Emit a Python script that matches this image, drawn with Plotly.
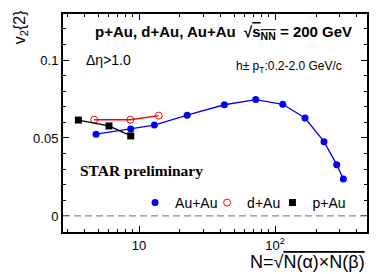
import plotly.graph_objects as go

# Data
au_n = [4.83, 8.69, 12.96, 22.6, 42.4, 72.1, 113.9, 166, 229, 284, 318]
au_v = [0.0524, 0.0558, 0.0583, 0.0646, 0.0713, 0.0746, 0.0716, 0.0628, 0.0476, 0.0329, 0.0237]
d_n = [4.69, 8.63, 13.97]
d_v = [0.0617, 0.0617, 0.0643]
p_n = [3.58, 6.01, 8.69]
p_v = [0.0615, 0.0577, 0.0513]

x_tickvals = [10, 100]
x_ticktext = ["10", "10<sup>2</sup>"]
y_tickvals = [0, 0.05, 0.1]
y_ticktext = ["0", "0.05", "0.1"]
x_minor = [3, 4, 5, 6, 7, 8, 9, 20, 30, 40, 50, 60, 70, 80, 90, 200, 300, 400]

BLUE = "rgb(0,0,255)"
RED = "rgb(255,0,0)"
BLACK = "black"

fig = go.Figure()
fig.add_trace(go.Scatter(x=au_n, y=au_v, mode="lines+markers", showlegend=False,
                         line=dict(color=BLUE, width=1.3),
                         marker=dict(color=BLUE, size=7, symbol="circle")))
fig.add_trace(go.Scatter(x=d_n, y=d_v, mode="lines+markers", showlegend=False,
                         line=dict(color=RED, width=1.3),
                         marker=dict(color=RED, size=7, symbol="circle-open",
                                     line=dict(color=RED, width=1))))
fig.add_trace(go.Scatter(x=p_n, y=p_v, mode="lines+markers", showlegend=False,
                         line=dict(color=BLACK, width=1.3),
                         marker=dict(color=BLACK, size=7, symbol="square")))
# legend entries (markers only), one legend box per entry
fig.add_trace(go.Scatter(x=[None], y=[None], mode="markers", name="Au+Au", legend="legend",
                         marker=dict(color=BLUE, size=7, symbol="circle")))
fig.add_trace(go.Scatter(x=[None], y=[None], mode="markers", name="d+Au", legend="legend2",
                         marker=dict(color=RED, size=7, symbol="circle-open", line=dict(color=RED, width=1))))
fig.add_trace(go.Scatter(x=[None], y=[None], mode="markers", name="p+Au", legend="legend3",
                         marker=dict(color=BLACK, size=7, symbol="square")))

fig.add_shape(type="line", xref="paper", yref="y", x0=0, x1=1, y0=0, y1=0,
              line=dict(color="#888888", width=1.2, dash="7px,4px"))

font = "Liberation Sans, Arial, sans-serif"
leg = dict(orientation="h", y=0.133, xanchor="left", yanchor="middle",
           bgcolor="rgba(0,0,0,0)", font=dict(size=14), itemwidth=30)
fig.update_layout(
    width=382, height=274,
    margin=dict(l=63, r=15, t=14, b=42),
    paper_bgcolor="white", plot_bgcolor="white",
    font=dict(family=font, size=13, color="black"),
    xaxis=dict(type="log", range=[0.441, 2.676],
               tickvals=x_tickvals, ticktext=x_ticktext,
               ticks="inside", ticklen=6, tickwidth=1, tickcolor="black",
               minor=dict(tickvals=x_minor, ticks="inside", ticklen=3, tickcolor="black"),
               showline=True, linewidth=2, linecolor="black", mirror="allticks",
               showgrid=False, zeroline=False, tickfont=dict(size=13)),
    yaxis=dict(range=[-0.0103, 0.1295],
               tickvals=y_tickvals, ticktext=y_ticktext,
               ticks="inside", ticklen=6, tickwidth=1, tickcolor="black",
               minor=dict(dtick=0.01, ticks="inside", ticklen=3, tickcolor="black"),
               showline=True, linewidth=2, linecolor="black", mirror="allticks",
               showgrid=False, zeroline=False, tickfont=dict(size=13)),
    legend=dict(leg, x=0.237),
    legend2=dict(leg, x=0.474),
    legend3=dict(leg, x=0.689),
    annotations=[
        dict(xref="paper", yref="paper", x=0.956, y=0.917, xanchor="right", yanchor="middle",
             showarrow=False, font=dict(size=15),
             text="<b>p+Au, d+Au, Au+Au  √<span style='text-decoration:overline'>s<sub>NN</sub></span> = 200 GeV</b>"),
        dict(xref="paper", yref="paper", x=0.07, y=0.789, xanchor="left", yanchor="middle",
             showarrow=False, font=dict(size=14), text="Δη>1.0"),
        dict(xref="paper", yref="paper", x=0.925, y=0.757, xanchor="right", yanchor="middle",
             showarrow=False, font=dict(size=12), text="h± p<sub>T</sub>:0.2-2.0 GeV/c"),
        dict(xref="paper", yref="paper", x=0.05, y=0.284, xanchor="left", yanchor="middle",
             showarrow=False, font=dict(size=15.5, family="Liberation Serif, Times New Roman, serif"),
             text="<b>STAR preliminary</b>"),
        dict(xref="paper", yref="paper", x=-0.141, y=0.94, xanchor="center", yanchor="middle",
             showarrow=False, textangle=-90, font=dict(size=16), text="v<sub>2</sub>{2}"),
        dict(xref="paper", yref="paper", x=1.0, y=-0.138, xanchor="right", yanchor="middle",
             showarrow=False, font=dict(size=18),
             text="N=√<span style='text-decoration:overline'>N(α)×N(β)</span>"),
    ],
)

fig.write_html("out.html", config={"displayModeBar": False},
               post_script="document.body.style.margin='0px';")
